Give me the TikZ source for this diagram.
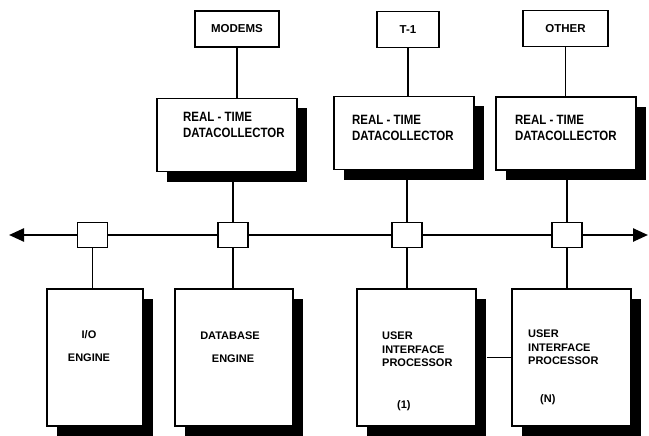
\documentclass[tikz,border=0pt]{standalone}
\usepackage{fontspec}
\setmainfont{Liberation Sans}
\newfontfamily\narrowfont{Liberation Sans}[FakeStretch=0.85]
\usetikzlibrary{arrows.meta,
	positioning,
	shadows}

\begin{document}
\begin{tikzpicture}[x=1pt,y=-1pt]
    \tikzstyle{box}=[draw,line width=1.5pt,fill=white,inner sep=0pt]
    \tikzstyle{source}=[box,minimum height=36pt,font=\bfseries\fontsize{11.5}{13}\selectfont]
    \tikzstyle{unit}=[box,drop shadow={shadow xshift=10pt,shadow yshift=-10pt,fill=black,opacity=1}]
    \tikzstyle{collector}=[unit,minimum width=140pt,minimum height=73pt]
    \tikzstyle{engine}=[unit,minimum height=137pt]
    \tikzstyle{port}=[box,minimum width=30pt,minimum height=25pt]
    \tikzstyle{lbl}=[inner sep=0pt,anchor=north west,align=left,font=\narrowfont\bfseries\fontsize{13.5}{16.5}\selectfont]
    \tikzstyle{sublbl}=[lbl,font=\bfseries\fontsize{11}{13.5}\selectfont]
    \tikzstyle{link}=[line width=1.5pt]
    \useasboundingbox (0,0) rectangle (649,436);
    \node[source,minimum width=84pt] (modems) at (237,29) {MODEMS};
    \node[source,minimum width=62pt] (t1) at (408,29.5) {T-1};
    \node[source,minimum width=85pt] (other) at (565.5,28.5) {OTHER};
    \node[collector] (rtc1) at (227,135) {};
    \node[collector] (rtc2) at (404,133) {};
    \node[collector] (rtc3) at (566,133.5) {};
    \node[lbl] (rtc1t) at (183,112) {REAL - TIME\\DATACOLLECTOR};
    \node[lbl] (rtc2t) at (352,115) {REAL - TIME\\DATACOLLECTOR};
    \node[lbl] (rtc3t) at (515,115) {REAL - TIME\\DATACOLLECTOR};
    \coordinate (busL) at (9,235);
    \coordinate (busR) at (648,235);
    \draw[line width=2.5pt,{Triangle[length=15pt,width=13pt]}-{Triangle[length=15pt,width=13pt]}] (busL) -- (busR);
    \node[port] (p1) at (92.5,235) {};
    \node[port] (p2) at (233,235) {};
    \node[port] (p3) at (407,235) {};
    \node[port] (p4) at (567,235) {};
    \node[engine,minimum width=96pt] (io) at (95,357.5) {};
    \node[engine,minimum width=118pt] (db) at (234,357.5) {};
    \node[engine,minimum width=119pt] (uip1) at (416.5,357.5) {};
    \node[engine,minimum width=119pt] (uipn) at (571.5,357.5) {};
    \node[sublbl,anchor=north,align=center,font=\bfseries\fontsize{11}{23}\selectfont] (iot) at (89,330) {I/O\\ENGINE};
    \node[sublbl,anchor=north,align=center,font=\bfseries\fontsize{11}{23}\selectfont] (dbt) at (230,332) {DATABASE\\\hspace{6pt}ENGINE};
    \node[sublbl] (uip1t) at (382,332) {USER\\INTERFACE\\PROCESSOR};
    \node[sublbl] (uipnt) at (528,330) {USER\\INTERFACE\\PROCESSOR};
    \node[sublbl] (uip1k) at (397,400) {(1)};
    \node[sublbl] (uipnk) at (540,394) {(N)};
    \draw[link] (modems.south) -- (modems.south |- rtc1.north);
    \draw[link] (t1.south) -- (t1.south |- rtc2.north);
    \draw[link] (other.south) -- (other.south |- rtc3.north);
    \draw[link] (p2.north) -- (p2.north |- rtc1.south);
    \draw[link] (p3.north) -- (p3.north |- rtc2.south);
    \draw[link] (p4.north) -- (p4.north |- rtc3.south);
    \draw[link] (p1.south) -- (p1.south |- io.north);
    \draw[link] (p2.south) -- (p2.south |- db.north);
    \draw[link] (p3.south) -- (p3.south |- uip1.north);
    \draw[link] (p4.south) -- (p4.south |- uipn.north);
    \draw[link] ([xshift=10pt]uip1.east) -- (uipn.west);
\end{tikzpicture}
\end{document}
